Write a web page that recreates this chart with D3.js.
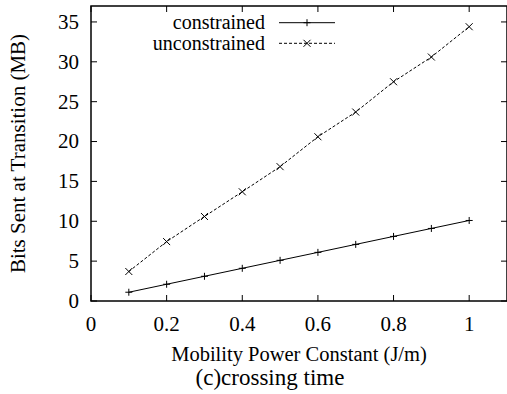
<!DOCTYPE html>
<html>
<head>
  <meta charset="UTF-8">
  <script src="https://d3js.org/d3.v7.js"></script>
</head>
<body style="margin:0">
  <script>
    // data
    const xs = [0.1, 0.2, 0.3, 0.4, 0.5, 0.6, 0.7, 0.8, 0.9, 1.0];
    const constrained = [1.1, 2.1, 3.1, 4.1, 5.1, 6.1, 7.1, 8.1, 9.1, 10.1];
    const unconstrained = [3.7, 7.45, 10.6, 13.7, 16.85, 20.6, 23.7, 27.5, 30.6, 34.4];
    const xTicks = [0, 0.2, 0.4, 0.6, 0.8, 1];
    const yTicks = [0, 5, 10, 15, 20, 25, 30, 35];

    const FONT = '"Liberation Serif"';
    const W = 507, H = 394;
    const margin = { top: 6, right: 0, bottom: 93, left: 91 };
    const width = W - margin.left - margin.right;
    const height = H - margin.top - margin.bottom;

    const svg = d3.select('body').append('svg')
        .attr('width', W).attr('height', H);
    const g = svg.append('g')
        .attr('transform', `translate(${margin.left},${margin.top})`);

    const x = d3.scaleLinear().domain([0, 1.1]).range([0, width]);
    const y = d3.scaleLinear().domain([0, 37]).range([height, 0]);

    // frame
    g.append('rect').attr('x', 0).attr('y', 0).attr('width', width).attr('height', height)
      .attr('fill', 'none').attr('stroke', '#000').attr('stroke-width', 1.5);

    // ticks (inward, mirrored on top/right)
    const tk = 6;
    const ticks = g.append('g');
    ticks.selectAll('.xb').data(xTicks).join('line')
      .attr('x1', d => x(d)).attr('x2', d => x(d)).attr('y1', height).attr('y2', height - tk);
    ticks.selectAll('.xt').data(xTicks).join('line')
      .attr('x1', d => x(d)).attr('x2', d => x(d)).attr('y1', 0).attr('y2', tk);
    ticks.selectAll('.yl').data(yTicks).join('line')
      .attr('y1', d => y(d)).attr('y2', d => y(d)).attr('x1', 0).attr('x2', tk);
    ticks.selectAll('.yr').data(yTicks).join('line')
      .attr('y1', d => y(d)).attr('y2', d => y(d)).attr('x1', width).attr('x2', width - tk);
    ticks.selectAll('line').attr('stroke', '#000').attr('stroke-width', 1);

    g.selectAll('.xlab').data(xTicks).join('text')
      .attr('x', d => x(d)).attr('y', height + 30)
      .attr('text-anchor', 'middle').style('font-size', '21px').text(d => String(d));
    g.selectAll('.ylab').data(yTicks).join('text')
      .attr('x', -12).attr('y', d => y(d)).attr('dy', '0.33em')
      .attr('text-anchor', 'end').style('font-size', '21px').text(d => String(d));

    // series
    const series = [
      { name: 'constrained', values: constrained, dash: null, marker: 'plus' },
      { name: 'unconstrained', values: unconstrained, dash: '3,2', marker: 'cross' }
    ];
    const line = d3.line().x(d => x(d[0])).y(d => y(d[1]));
    const ms = 3.5;
    function marker(sel, type, cx, cy) {
      const p = type === 'plus'
        ? `M${cx - ms},${cy}H${cx + ms}M${cx},${cy - ms}V${cy + ms}`
        : `M${cx - ms},${cy - ms}L${cx + ms},${cy + ms}M${cx - ms},${cy + ms}L${cx + ms},${cy - ms}`;
      sel.append('path').attr('d', p).attr('stroke', '#000').attr('stroke-width', 1).attr('fill', 'none');
    }

    series.forEach((s, i) => {
      const pts = xs.map((v, j) => [v, s.values[j]]);
      g.append('path').datum(pts).attr('d', line)
        .attr('fill', 'none').attr('stroke', '#000').attr('stroke-width', 1)
        .attr('stroke-dasharray', s.dash);
      pts.forEach(p => marker(g, s.marker, x(p[0]), y(p[1])));

      // legend
      const ly = 16.7 + i * 20.6;
      g.append('text').attr('x', 174).attr('y', ly).attr('dy', '0.33em')
        .attr('text-anchor', 'end').style('font-size', '20px').text(s.name);
      g.append('line').attr('x1', 188).attr('x2', 244).attr('y1', ly).attr('y2', ly)
        .attr('stroke', '#000').attr('stroke-width', 1).attr('stroke-dasharray', s.dash);
      marker(g, s.marker, 216, ly);
    });

    // titles
    svg.append('text').attr('x', margin.left + width / 2).attr('y', 361)
      .attr('text-anchor', 'middle').style('font-size', '20.5px').text('Mobility Power Constant (J/m)');
    svg.append('text').attr('x', 270).attr('y', 385)
      .attr('text-anchor', 'middle').style('font-size', '23px').text('(c)crossing time');
    svg.append('text')
      .attr('transform', `translate(25,${margin.top + height / 2}) rotate(-90)`)
      .attr('text-anchor', 'middle').style('font-size', '21px').text('Bits Sent at Transition (MB)');

    svg.selectAll('text').attr('fill', '#000').style('font-family', FONT);
  </script>
</body>
</html>
